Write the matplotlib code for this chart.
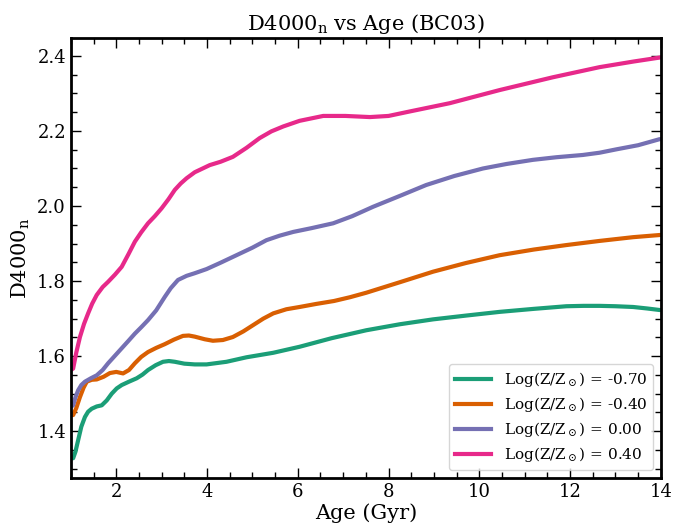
import numpy as np
import matplotlib
matplotlib.use("Agg")
import matplotlib.pyplot as plt
from matplotlib.ticker import MultipleLocator

plt.rcParams['font.family'] = 'DejaVu Serif'
plt.rcParams['mathtext.fontset'] = 'dejavuserif'

# values
age_m070 = [1.0, 1.05, 1.10, 1.16, 1.23, 1.31, 1.38, 1.46, 1.57, 1.68, 1.79, 1.90, 2.01, 2.12, 2.28, 2.45,
            2.58, 2.70, 2.87, 3.03, 3.16, 3.29, 3.50, 3.73, 3.99, 4.43, 4.87, 5.46, 6.04, 6.75, 7.51,
            8.25, 8.98, 9.70, 10.45, 11.2, 11.92, 12.3, 12.65, 13.0, 13.39, 13.7, 13.97, 14.0]
d4_m070 = [1.328, 1.328, 1.345, 1.376, 1.412, 1.438, 1.452, 1.460, 1.466, 1.469, 1.482, 1.500, 1.514, 1.523,
           1.532, 1.541, 1.551, 1.563, 1.576, 1.585, 1.587, 1.585, 1.580, 1.578, 1.578, 1.585, 1.597, 1.609,
           1.625, 1.648, 1.669, 1.685, 1.698, 1.708, 1.718, 1.726, 1.733, 1.734, 1.734, 1.733, 1.731, 1.727,
           1.723, 1.723]

age_m040 = [1.0, 1.05, 1.12, 1.20, 1.28, 1.35, 1.46, 1.57, 1.72, 1.86, 2.0, 2.15, 2.28, 2.41, 2.55, 2.70,
            2.88, 3.07, 3.27, 3.47, 3.60, 3.73, 3.95, 4.13, 4.35, 4.57, 4.80, 5.02, 5.24, 5.46, 5.75, 6.04,
            6.40, 6.80, 7.15, 7.51, 8.25, 8.98, 9.70, 10.45, 11.2, 11.92, 12.65, 13.39, 14.0]
d4_m040 = [1.443, 1.443, 1.462, 1.491, 1.516, 1.532, 1.537, 1.538, 1.545, 1.555, 1.558, 1.554, 1.563, 1.581,
           1.598, 1.611, 1.622, 1.632, 1.644, 1.654, 1.655, 1.652, 1.645, 1.641, 1.643, 1.651, 1.666, 1.683,
           1.700, 1.714, 1.725, 1.731, 1.739, 1.747, 1.757, 1.769, 1.797, 1.825, 1.848, 1.869, 1.884, 1.896,
           1.907, 1.917, 1.923]

age_000 = [1.0, 1.05, 1.10, 1.16, 1.23, 1.31, 1.44, 1.57, 1.70, 1.82, 1.97, 2.12, 2.27, 2.41, 2.55, 2.70,
           2.88, 3.07, 3.20, 3.36, 3.55, 3.73, 3.99, 4.30, 4.65, 5.0, 5.31, 5.60, 5.90, 6.30, 6.78, 7.20,
           7.66, 8.25, 8.83, 9.45, 10.08, 10.60, 11.18, 11.70, 12.28, 12.65, 13.02, 13.50, 13.97, 14.0]
d4_000 = [1.465, 1.469, 1.490, 1.509, 1.523, 1.532, 1.541, 1.549, 1.563, 1.581, 1.601, 1.621, 1.641, 1.660,
          1.677, 1.696, 1.722, 1.758, 1.781, 1.803, 1.814, 1.821, 1.832, 1.849, 1.869, 1.889, 1.909, 1.921,
          1.931, 1.941, 1.954, 1.973, 1.998, 2.027, 2.056, 2.080, 2.100, 2.112, 2.123, 2.130, 2.136, 2.142,
          2.151, 2.162, 2.178, 2.178]

age_p040 = [1.0, 1.05, 1.12, 1.20, 1.29, 1.38, 1.47, 1.57, 1.70, 1.82, 1.97, 2.12, 2.27, 2.41, 2.55, 2.70,
            2.85, 3.00, 3.15, 3.29, 3.42, 3.55, 3.73, 4.06, 4.30, 4.57, 4.87, 5.16, 5.42, 5.68, 6.04, 6.56,
            7.05, 7.59, 8.0, 8.47, 9.35, 10.45, 11.62, 12.65, 13.40, 14.0]
d4_p040 = [1.563, 1.567, 1.610, 1.651, 1.686, 1.714, 1.740, 1.763, 1.784, 1.798, 1.817, 1.838, 1.872, 1.905,
           1.930, 1.954, 1.973, 1.994, 2.018, 2.043, 2.060, 2.074, 2.090, 2.109, 2.118, 2.131, 2.155, 2.181,
           2.199, 2.212, 2.227, 2.240, 2.240, 2.237, 2.240, 2.252, 2.274, 2.309, 2.343, 2.370, 2.385, 2.396]

series = [
    (age_m070, d4_m070, '#1b9e77', r'Log(Z/Z$_\odot$) = -0.70'),
    (age_m040, d4_m040, '#d95f02', r'Log(Z/Z$_\odot$) = -0.40'),
    (age_000, d4_000, '#7570b3', r'Log(Z/Z$_\odot$) = 0.00'),
    (age_p040, d4_p040, '#e7298a', r'Log(Z/Z$_\odot$) = 0.40'),
]

fig = plt.figure(figsize=(6.75, 5.26), dpi=100)
ax = fig.add_axes([0.105, 0.091, 0.874, 0.837])

for ages, vals, col, lab in series:
    ax.plot(ages, vals, color=col, lw=3, label=lab, solid_joinstyle='round')

ax.set_xlim(1, 14)
ax.set_ylim(1.275, 2.448)
ax.xaxis.set_major_locator(MultipleLocator(2))
ax.xaxis.set_minor_locator(MultipleLocator(0.5))
ax.yaxis.set_major_locator(MultipleLocator(0.2))
ax.yaxis.set_minor_locator(MultipleLocator(0.05))
ax.tick_params(which='both', direction='in', top=True, right=True, labelsize=13)
ax.tick_params(which='major', length=7, width=1)
ax.tick_params(which='minor', length=4, width=1)
for s in ax.spines.values():
    s.set_linewidth(2)

ax.set_xlabel('Age (Gyr)', fontsize=15, labelpad=2)
ax.set_ylabel(r'D4000$_{\rm n}$', fontsize=15)
ax.set_title(r'D4000$_{\rm n}$ vs Age (BC03)', fontsize=15)
ax.legend(loc='lower right', fontsize=11, handlelength=2.4, labelspacing=0.4)

fig.savefig('out.png', dpi=100)
plt.close(fig)
